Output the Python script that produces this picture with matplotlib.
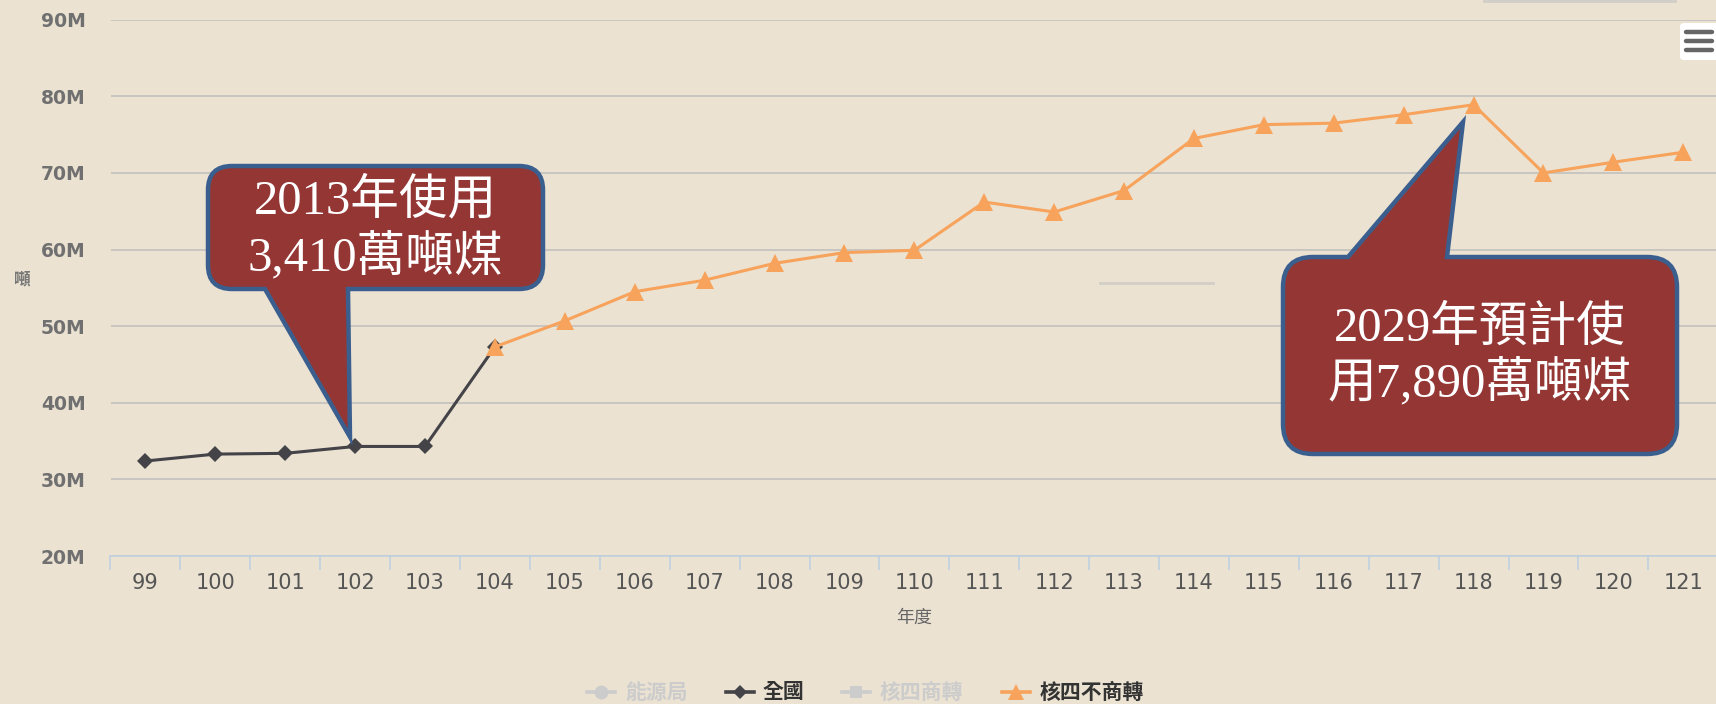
import matplotlib
matplotlib.use("Agg")
import matplotlib.pyplot as plt
import matplotlib.transforms as mtransforms
from matplotlib.path import Path
from matplotlib.patches import PathPatch, Rectangle, FancyBboxPatch
from matplotlib.lines import Line2D
from matplotlib.ticker import FuncFormatter

W, H = 1716, 704
BG = "#EBE2D2"
BLACK = "#434348"
ORANGE = "#F7A35C"
HIDDEN = "#CCCCCC"
BOX_FILL = "#943634"
BOX_EDGE = "#3A5F8F"
CJK = ["Noto Sans CJK TC", "DejaVu Sans"]
SERIF = ["Liberation Serif", "Noto Sans CJK TC"]

# data (million tonnes of coal)
years = ["99", "100", "101", "102", "103", "104", "105", "106", "107", "108",
         "109", "110", "111", "112", "113", "114", "115", "116", "117", "118",
         "119", "120", "121"]
national_years = years[:6]
national = [32.4, 33.3, 33.4, 34.3, 34.3, 47.3]
no_nuclear_years = years[5:]
no_nuclear = [47.3, 50.7, 54.5, 56.0, 58.2, 59.6, 59.9, 66.2, 64.9, 67.7,
              74.5, 76.3, 76.5, 77.6, 78.9, 70.0, 71.4, 72.7]
y_ticks = [20, 30, 40, 50, 60, 70, 80, 90]

plt.rcParams["font.family"] = ["DejaVu Sans", "Noto Sans CJK TC"]

fig = plt.figure(figsize=(W / 100, H / 100), dpi=100, facecolor=BG)
ax = fig.add_axes([110.5 / W, 1 - 556 / H, 1607.7 / W, (556 - 19.7) / H])
ax.set_facecolor(BG)

ax.plot(national_years, national, color=BLACK, lw=2.2, marker="D", ms=8,
        mec=BLACK, mew=0, zorder=3)
ax.plot(no_nuclear_years, no_nuclear, color=ORANGE, lw=2.2, marker="^", ms=13,
        mew=0, zorder=4)

ax.set_xlim(-0.5, len(years) - 0.5)
ax.set_ylim(20, 90)
ax.set_yticks(y_ticks)
ax.yaxis.set_major_formatter(FuncFormatter(lambda v, _: f"{v:.0f}M"))
ax.grid(axis="y", color="#C9C6C1", lw=1.4, zorder=1)
ax.set_axisbelow(True)

for s in ["top", "right", "left"]:
    ax.spines[s].set_visible(False)
ax.spines["bottom"].set_color("#C0D0E0")
ax.spines["bottom"].set_linewidth(1.2)
ax.spines["bottom"].set_zorder(2)

ax.set_xticks([i - 0.5 for i in range(len(years) + 1)], minor=True)
ax.tick_params(axis="x", which="minor", length=10, width=1.2, color="#C0D0E0")
ax.tick_params(axis="x", which="major", length=0, pad=12, labelsize=15,
               labelcolor="#555555")
ax.tick_params(axis="y", length=0, pad=18, labelsize=13.5, labelcolor="#707070")
for lab in ax.get_yticklabels():
    lab.set_fontweight("bold")

# pixel transform (origin top-left)
px = mtransforms.Affine2D().scale(1 / W, -1 / H).translate(0, 1) + fig.transFigure

fig.text(22, 279, "噸", transform=px, family=CJK, fontsize=12, color="#777777",
         ha="center", va="center", fontweight="bold")
fig.text(914, 618, "年度", transform=px, family=CJK, fontsize=13, color="#666666",
         ha="center", va="center")


def callout(x0, y0, x1, y1, r, a, b, tip, side):
    verts, codes = [], []

    def line(p):
        verts.append(p)
        codes.append(Path.LINETO)

    def curve(c, p):
        verts.extend([c, p])
        codes.extend([Path.CURVE3, Path.CURVE3])

    verts.append((x0 + r, y0))
    codes.append(Path.MOVETO)
    if side == "top":
        line((a, y0)); line(tip); line((b, y0))
    line((x1 - r, y0)); curve((x1, y0), (x1, y0 + r))
    line((x1, y1 - r)); curve((x1, y1), (x1 - r, y1))
    if side == "bottom":
        line((b, y1)); line(tip); line((a, y1))
    line((x0 + r, y1)); curve((x0, y1), (x0, y1 - r))
    line((x0, y0 + r)); curve((x0, y0), (x0 + r, y0))
    verts.append((0, 0))
    codes.append(Path.CLOSEPOLY)
    return Path(verts, codes)


boxes = [
    (callout(208, 166, 543, 289, 24, 265, 348, (350, 437), "bottom"),
     375, ["2013年使用", "3,410萬噸煤"], [200, 257]),
    (callout(1283, 257, 1677, 454, 30, 1348, 1447, (1463, 122), "top"),
     1480, ["2029年預計使", "用7,890萬噸煤"], [328, 383]),
]
for path, cx, lines, ys in boxes:
    fig.add_artist(PathPatch(path, transform=px, facecolor=BOX_FILL,
                             edgecolor=BOX_EDGE, lw=3.2, joinstyle="miter",
                             zorder=10))
    for txt, ty in zip(lines, ys):
        fig.text(cx, ty, txt, transform=px, family=SERIF, fontsize=35,
                 color="white", ha="center", va="center", zorder=11)

# legend
legend_items = [
    ("能源局", "o", HIDDEN, HIDDEN, 601, 625, 10),
    ("全國", "D", BLACK, "#333333", 740, 763, 7),
    ("核四商轉", "s", HIDDEN, HIDDEN, 856, 880, 9),
    ("核四不商轉", "^", ORANGE, "#333333", 1016, 1040, 12),
]
for label, mk, col, tcol, mx, tx, ms in legend_items:
    fig.add_artist(Line2D([mx - 14, mx, mx + 14], [692] * 3, transform=px,
                          color=col, lw=2.6, marker=mk, ms=ms, mew=0,
                          markevery=[1]))
    fig.text(tx, 692, label, transform=px, family=CJK, fontsize=15,
             fontweight="bold", color=tcol, ha="left", va="center")

# chart chrome: export menu button, range bar, stray line
fig.add_artist(FancyBboxPatch((1680, 23), 40, 37, boxstyle="round,pad=0,rounding_size=4",
                              transform=px, facecolor="white", edgecolor="none"))
for by in [32, 41, 50]:
    fig.add_artist(Line2D([1686, 1712], [by, by], transform=px, color="#666666",
                          lw=3.2, solid_capstyle="round"))
fig.add_artist(Rectangle((1483, 0), 194, 3, transform=px, facecolor="#D2CFC9",
                         edgecolor="none"))
fig.add_artist(Line2D([1100, 1213], [283, 283], transform=px, color="#D3CEC6", lw=2))

fig.savefig("out.png", dpi=100, facecolor=BG)
